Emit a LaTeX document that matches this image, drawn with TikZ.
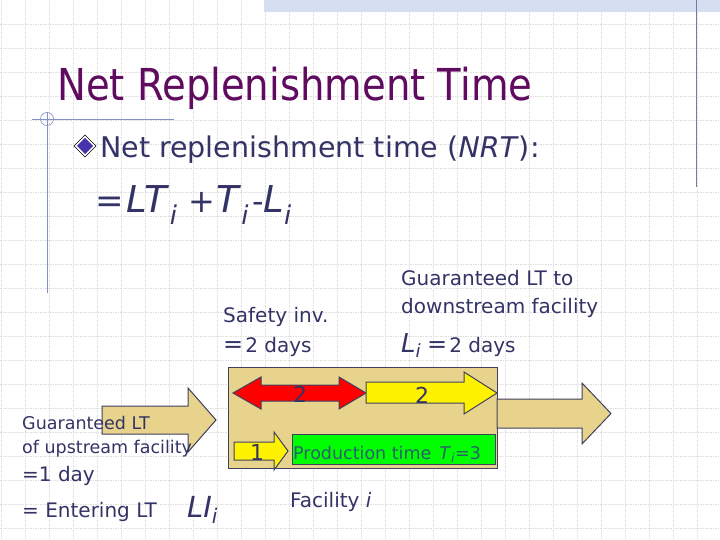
\documentclass[tikz,border=0pt]{standalone}
\usepackage{fontspec}
\setmainfont{DejaVu Sans}
\newfontfamily\titlefont[FakeStretch=0.877]{DejaVu Sans}
\definecolor{txt}{RGB}{51,51,102}
\definecolor{ttl}{RGB}{96,10,96}
\definecolor{tanc}{RGB}{232,211,140}
\definecolor{edgec}{RGB}{64,64,96}
\definecolor{gridc}{RGB}{222,222,222}
\definecolor{bandc}{RGB}{214,223,242}
\definecolor{decoc}{RGB}{130,146,200}
\definecolor{vlinec}{RGB}{112,124,160}
\definecolor{prodtxt}{RGB}{46,94,110}
\definecolor{bulletc}{RGB}{70,50,170}
\newcommand\setfs[1]{\fontsize{#1}{#1}\selectfont}
\newcommand\sbi{\textsubscript{\itshape i}}
\tikzset{
  gridline/.style={color=gridc, line width=0.7pt, dash pattern=on 1.5pt off 1pt},
  shapeedge/.style={draw=edgec, line width=1pt, line join=miter},
  lbl/.style={anchor=base west, inner sep=0pt, text=txt},
  dig/.style={anchor=center, inner sep=0pt, text=txt, font=\setfs{22}},
}
\begin{document}
\begin{tikzpicture}[x=1pt,y=-1pt]
\useasboundingbox (0,0) rectangle (720,540);
\fill[white] (0,0) rectangle (720,540);
% grid
\foreach \gx in {1,25,...,697} \draw[gridline] (\gx,0) -- (\gx,540);
\foreach \gy in {24,48,...,528} \draw[gridline] (0,\gy) -- (720,\gy);
% top band and right line
\fill[bandc] (264,0) rectangle (720,12);
\draw[vlinec, line width=1pt] (696,0) -- (696,187);
% left decoration
\draw[decoc, line width=0.8pt] (32,119) -- (174,119);
\draw[decoc, line width=0.8pt] (47,112) -- (47,293);
\draw[decoc, line width=0.6pt] (47,119) circle (6.5);
% title
\node[anchor=base west, inner sep=0pt, text=ttl, font=\titlefont\setfs{44}] (title) at (57,101) {Net Replenishment Time};
% bullet
\draw[black, line width=0.6pt, fill=white] (85,135) -- (96,146) -- (85,157) -- (74,146) -- cycle;
\fill[bulletc] (85,138) -- (93,146) -- (85,154) -- (77,146) -- cycle;
\node[lbl, font=\setfs{28.5}] (nrt) at (100,158) {Net replenishment time (\textit{NRT}):};
\node[lbl, font=\setfs{37}] (eq) at (95,213) {{\setfs{34}=}\hspace{3pt}\textit{LT}\sbi\hspace{11pt}{\setfs{32}+}\hspace{1pt}\textit{T}\sbi\hspace{3pt}{\setfs{32}-}\textit{L}\sbi};
% upper labels
\node[lbl, font=\setfs{20}] (safety1) at (223,322) {Safety inv.};
\node[lbl, font=\setfs{20}] (safety2) at (223,352) {{\setfs{24}=}\hspace{2pt}2 days};
\node[lbl, font=\setfs{20}] (glt1) at (401,285) {Guaranteed LT to};
\node[lbl, font=\setfs{20}] (glt2) at (401,313) {downstream facility};
\node[lbl, font=\setfs{20}] (li) at (401,352) {{\setfs{26}\textit{L}\sbi}\hspace{6pt}{\setfs{24}=}\hspace{2pt}2 days};
% left tan arrow
\path[shapeedge, fill=tanc] (102,406) -- (188,406) -- (188,388) -- (216,420) -- (188,452) -- (188,434) -- (102,434) -- cycle;
% facility box
\path[shapeedge, fill=tanc] (228,367) rectangle (497,468);
% right tan arrow
\path[shapeedge, fill=tanc] (497,399) -- (582,399) -- (582,383) -- (611,413.5) -- (582,444) -- (582,428) -- (497,428) -- cycle;
% red double arrow
\path[shapeedge, fill=red] (233,393) -- (261,377) -- (261,385) -- (339,385) -- (339,377) -- (366,393) -- (339,409) -- (339,401) -- (261,401) -- (261,409) -- cycle;
% yellow arrow 2
\path[shapeedge, fill=yellow] (366,382) -- (464,382) -- (464,372) -- (497,393) -- (464,414) -- (464,403) -- (366,403) -- cycle;
% yellow arrow 1
\path[shapeedge, fill=yellow] (234,442) -- (274,442) -- (274,432) -- (288,451) -- (274,470) -- (274,460) -- (234,460) -- cycle;
% green box
\path[draw=edgec, line width=0.6pt, fill={rgb,255:red,0;green,255;blue,0}] (292,434) rectangle (495,464);
% digits
\node[dig] (two1) at (300,394) {2};
\node[dig] (two2) at (422,395) {2};
\node[dig] (one) at (257,452) {1};
\node[anchor=base west, inner sep=0pt, text=prodtxt, font=\setfs{17.5}] (prod) at (293,459) {Production time\hspace{8pt}\textit{T}\sbi{}=3};
% left labels
\node[lbl, font=\setfs{17.5}] (gu1) at (22,429) {Guaranteed LT};
\node[lbl, font=\setfs{17.5}] (gu2) at (22,453) {of upstream facility};
\node[lbl, font=\setfs{20}] (day) at (22,481) {=1 day};
\node[lbl, font=\setfs{20}] (ent) at (22,517) {= Entering LT};
\node[lbl, font=\setfs{29}] (lii) at (187,517) {\textit{LI}\sbi};
\node[lbl, font=\setfs{20}] (fac) at (290,507) {Facility \textit{i}};
\end{tikzpicture}
\end{document}
